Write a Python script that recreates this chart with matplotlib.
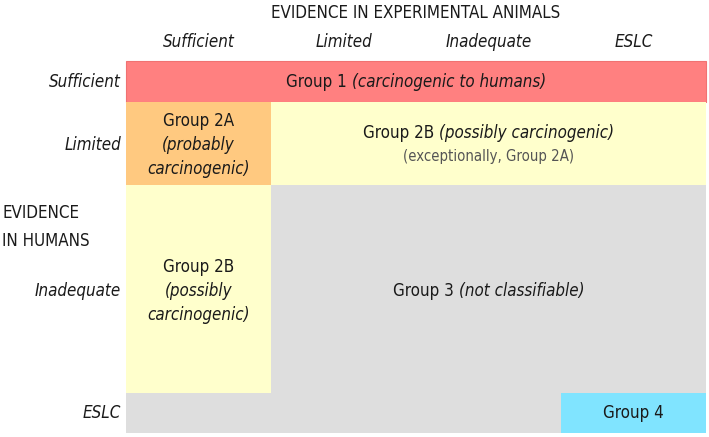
"""IARC classification grid: evidence in humans vs. evidence in experimental animals."""

import matplotlib
matplotlib.use("Agg")
import matplotlib.pyplot as plt
from matplotlib import font_manager
from matplotlib.patches import Rectangle

# ---- data -------------------------------------------------------------------
col_labels = ["Sufficient", "Limited", "Inadequate", "ESLC"]
row_labels = ["Sufficient", "Limited", "Inadequate", "ESLC"]
col_title = "EVIDENCE IN EXPERIMENTAL ANIMALS"
row_title = "EVIDENCE\nIN HUMANS"

# cells: (row0, row1, col0, col1) spans, end exclusive
cell_spans = [(0, 1, 0, 4), (1, 2, 0, 1), (1, 2, 1, 4), (2, 3, 0, 1),
              (2, 3, 1, 4), (3, 4, 0, 3), (3, 4, 3, 4)]
cell_colors = ["#ff8080", "#ffc980", "#ffffcc", "#ffffcc",
               "#dedede", "#dedede", "#80e4ff"]
cell_edges = ["#f07272", "none", "none", "none", "none", "none", "none"]
# each label: list of lines, each line a list of (text, italic)
cell_texts = [
    [[("Group 1 ", False), ("(carcinogenic to humans)", True)]],
    [[("Group 2A", False)], [("(probably", True)], [("carcinogenic)", True)]],
    [[("Group 2B ", False), ("(possibly carcinogenic)", True)]],
    [[("Group 2B", False)], [("(possibly", True)], [("carcinogenic)", True)]],
    [[("Group 3 ", False), ("(not classifiable)", True)]],
    [],
    [[("Group 4", False)]],
]
note_text = "(exceptionally, Group 2A)"

# ---- layout -----------------------------------------------------------------
W, H = 709, 437
col_edges = [126, 271, 416, 561, 706]
row_edges = [61, 102, 185, 393, 433]
row_label_y = [82, 145, 291, 413]
LINE = 24

names = {f.name for f in font_manager.fontManager.ttflist}
stretches = {(f.name, f.stretch) for f in font_manager.fontManager.ttflist}
if ("DejaVu Sans", "condensed") in stretches or ("DejaVu Sans", 700) in stretches:
    FONT, STRETCH = "DejaVu Sans", "condensed"
elif "Liberation Sans Narrow" in names:
    FONT, STRETCH = "Liberation Sans Narrow", "normal"
else:
    FONT, STRETCH = "DejaVu Sans", "normal"
FS = 12.2
TXT = "#1a1a1a"

fig = plt.figure(figsize=(W / 100, H / 100), dpi=100, facecolor="white")
ax = fig.add_axes([0, 0, 1, 1])
ax.set_xlim(0, W)
ax.set_ylim(H, 0)
ax.axis("off")
renderer = fig.canvas.get_renderer()


def mixed_line(x, y, parts, **kw):
    """Draw a centred line made of upright and italic pieces."""
    items = []
    for s, it in parts:
        t = ax.text(0, y, s, fontsize=FS, family=FONT, fontstretch=STRETCH,
                    style="italic" if it else "normal", color=TXT,
                    ha="left", va="center", **kw)
        items.append(t)
    inv = ax.transData.inverted()
    widths = []
    for t in items:
        bb = t.get_window_extent(renderer)
        x0 = inv.transform((bb.x0, bb.y0))[0]
        x1 = inv.transform((bb.x1, bb.y0))[0]
        widths.append(x1 - x0)
    cur = x - sum(widths) / 2
    for t, w in zip(items, widths):
        t.set_x(cur)
        cur += w


for (r0, r1, c0, c1), color, edge, lines in zip(cell_spans, cell_colors,
                                                 cell_edges, cell_texts):
    x0, x1 = col_edges[c0], col_edges[c1]
    y0, y1 = row_edges[r0], row_edges[r1]
    ax.add_patch(Rectangle((x0, y0), x1 - x0, y1 - y0, facecolor=color,
                           edgecolor=edge, linewidth=0.8))
    if not lines:
        continue
    cx = (x0 + x1) / 2
    cy = row_label_y[r0]
    if len(lines) > 1:
        cy = row_label_y[r0] - LINE * (len(lines) - 1) / 2
    if (r0, c0) == (1, 1):
        cy = row_label_y[r0] - 12
    for i, parts in enumerate(lines):
        mixed_line(cx, cy + i * LINE, parts)

# note under Group 2B
ax.text((col_edges[1] + col_edges[4]) / 2, row_label_y[1] + 12, note_text,
        fontsize=FS - 1.5, family=FONT, fontstretch=STRETCH, color="#555555",
        ha="center", va="center")

# column headers
ax.text((col_edges[0] + col_edges[4]) / 2, 13, col_title, fontsize=FS,
        family=FONT, fontstretch=STRETCH, color=TXT, ha="center", va="center")
for i, lab in enumerate(col_labels):
    ax.text((col_edges[i] + col_edges[i + 1]) / 2, 42, lab, fontsize=FS,
            family=FONT, fontstretch=STRETCH, style="italic", color=TXT,
            ha="center", va="center")

# row headers
for lab, y in zip(row_labels, row_label_y):
    ax.text(col_edges[0] - 5, y, lab, fontsize=FS, family=FONT,
            fontstretch=STRETCH, style="italic", color=TXT,
            ha="right", va="center")
ax.text(2, 227, row_title, fontsize=FS, family=FONT, fontstretch=STRETCH,
        color=TXT, ha="left", va="center", linespacing=1.65)

fig.savefig("out.png", dpi=100, facecolor="white")
